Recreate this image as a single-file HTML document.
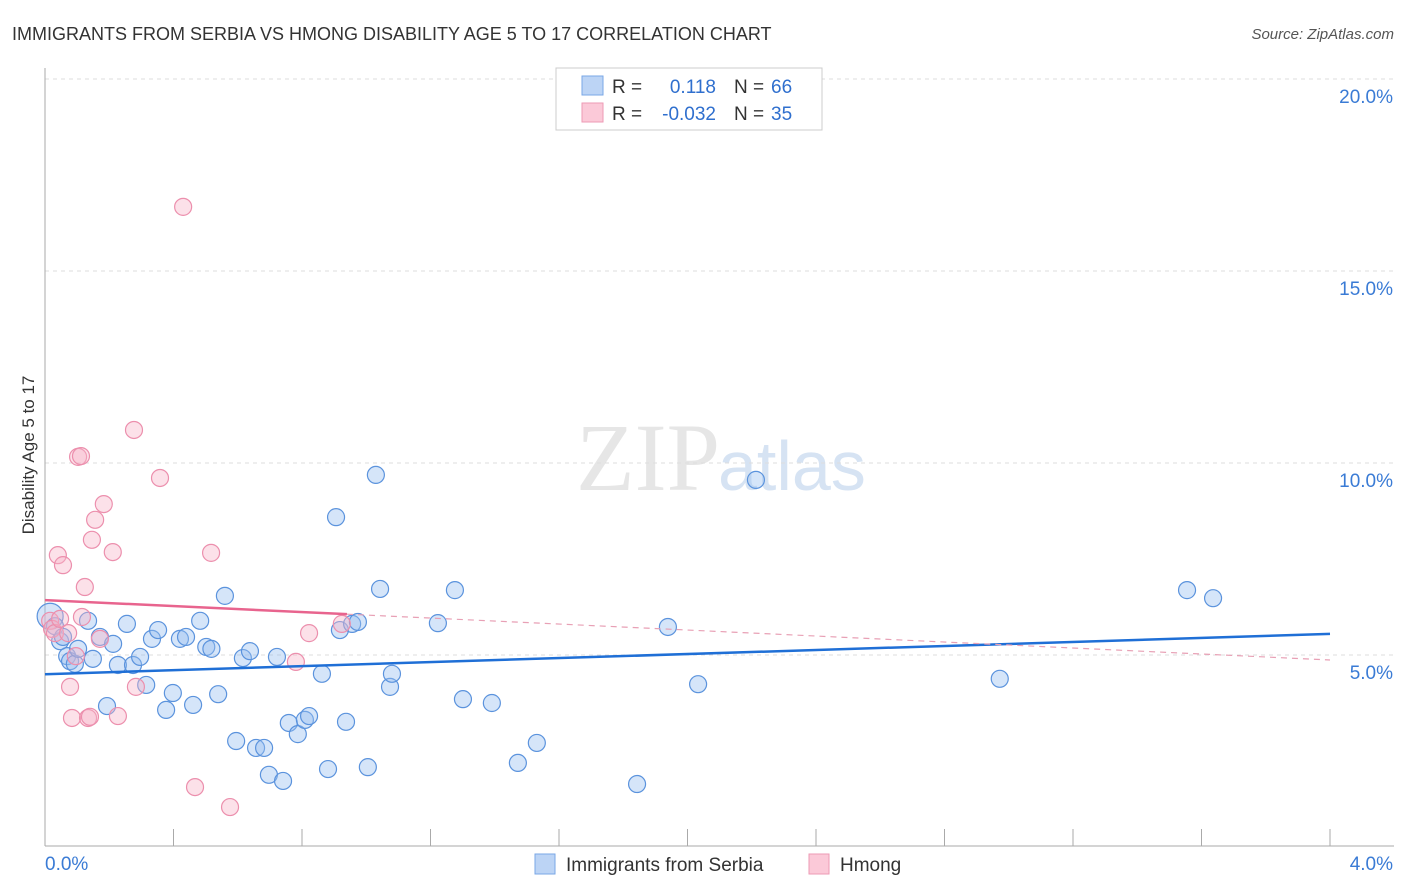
<!DOCTYPE html>
<html><head><meta charset="utf-8"><style>
body{margin:0;background:#fff;font-family:"Liberation Sans",sans-serif}
svg{display:block}
</style></head><body>
<svg id="chart" width="1406" height="892">
<text x="12" y="40" font-size="18" fill="#333">IMMIGRANTS FROM SERBIA VS HMONG DISABILITY AGE 5 TO 17 CORRELATION CHART</text>
<text x="1394" y="39" font-size="15" fill="#555" text-anchor="end" font-style="italic">Source: ZipAtlas.com</text>
<text x="34" y="455" font-size="17" fill="#333" text-anchor="middle" transform="rotate(-90 34 455)">Disability Age 5 to 17</text>
<text x="720" y="490" font-size="96" fill="#e6e6e6" text-anchor="end" font-family="Liberation Serif,serif">ZIP</text>
<text x="718" y="490" font-size="70" fill="#d6e3f3">atlas</text>
<g id="grid"></g><g id="pts"></g><g id="lines"></g>
<g>
<rect x="556" y="68" width="266" height="62" fill="#fff" stroke="#ccc"/>
<rect x="582" y="76" width="21" height="19" fill="#bcd4f5" stroke="#7aa7e6"/>
<rect x="582" y="103" width="21" height="19" fill="#fbc9d8" stroke="#ee9ab5"/>
<text x="612" y="93" font-size="19" fill="#333">R =</text><text x="716" y="93" font-size="19" fill="#2f6fce" text-anchor="end">0.118</text>
<text x="734" y="93" font-size="19" fill="#333">N =</text><text x="771" y="93" font-size="19" fill="#2f6fce">66</text>
<text x="612" y="120" font-size="19" fill="#333">R =</text><text x="716" y="120" font-size="19" fill="#2f6fce" text-anchor="end">-0.032</text>
<text x="734" y="120" font-size="19" fill="#333">N =</text><text x="771" y="120" font-size="19" fill="#2f6fce">35</text>
</g>
<g>
<rect x="535" y="854" width="20" height="20" fill="#bcd4f5" stroke="#7aa7e6"/>
<text x="566" y="871" font-size="19" fill="#333">Immigrants from Serbia</text>
<rect x="809" y="854" width="20" height="20" fill="#fbc9d8" stroke="#ee9ab5"/>
<text x="840" y="871" font-size="19" fill="#333">Hmong</text>
</g>
</svg>
<script>
const yTicks=[5,10,15,20];
const xTickLabels=["0.0%","4.0%"];
const blueX=[0.016,0.031,0.047,0.056,0.069,0.078,0.093,0.103,0.134,0.149,0.171,0.193,0.212,0.227,0.255,0.274,0.296,0.315,0.333,0.352,0.377,0.398,0.420,0.439,0.461,0.483,0.502,0.518,0.539,0.560,0.595,0.616,0.638,0.657,0.682,0.697,0.722,0.741,0.759,0.787,0.809,0.822,0.862,0.881,0.906,0.918,0.937,0.956,0.974,1.005,1.030,1.043,1.074,1.080,1.223,1.276,1.301,1.391,1.472,1.531,1.843,1.939,2.033,2.213,2.972,3.555,3.636];
const blueY=[6.01,5.75,5.36,5.47,4.97,4.84,4.77,5.16,5.89,4.90,5.47,3.67,5.29,4.74,5.81,4.74,4.95,4.22,5.42,5.65,3.57,4.01,5.42,5.47,3.70,5.89,5.21,5.16,3.98,6.54,2.76,4.92,5.10,2.58,2.58,1.88,4.95,1.72,3.23,2.94,3.31,3.41,4.51,2.03,8.59,5.65,3.26,5.81,5.86,2.08,9.69,6.72,4.17,4.51,5.83,6.69,3.85,3.75,2.19,2.71,1.64,5.73,4.24,9.56,4.38,6.69,6.48];
const pinkX=[0.016,0.022,0.031,0.040,0.047,0.056,0.072,0.078,0.084,0.096,0.103,0.112,0.115,0.124,0.134,0.140,0.146,0.156,0.171,0.183,0.211,0.227,0.277,0.283,0.358,0.430,0.467,0.517,0.576,0.781,0.822,0.924];
const pinkY=[5.89,5.68,5.57,7.60,5.94,7.34,5.57,4.17,3.36,4.97,10.16,10.18,5.99,6.77,3.36,3.39,8.00,8.52,5.42,8.93,7.68,3.41,10.86,4.17,9.61,16.67,1.56,7.66,1.04,4.82,5.57,5.81];
const blueTrend=[4.50,5.55];const pinkTrend=[6.43,4.87];
const X=v=>45+v/4*1285, Y=v=>847-v/5*192;
const NS="http://www.w3.org/2000/svg";
function mk(p,t,a){const e=document.createElementNS(NS,t);for(const k in a)e.setAttribute(k,a[k]);p.appendChild(e);return e;}
const g=document.getElementById('grid');
yTicks.forEach(t=>{const l=mk(g,'line',{x1:45,x2:1394,y1:Y(t),y2:Y(t),stroke:'#ddd','stroke-dasharray':'4 4'});


const tx=mk(g,'text',{x:1393,y:Y(t)+24,'font-size':19,fill:'#3a7bd5','text-anchor':'end'});tx.textContent=t.toFixed(1)+'%';

});
const ax=mk(g,'line',{x1:45,x2:45,y1:68,y2:846,stroke:'#aaa'});


const bx=mk(g,'line',{x1:45,x2:1394,y1:846,y2:846,stroke:'#aaa'});


for(let i=0;i<=10;i++){const x=45+i*128.5;const t=mk(g,'line',{x1:x,x2:x,y1:829,y2:846,stroke:'#aaa'});

}
xTickLabels.forEach((s,i)=>{const t=mk(g,'text',{x:i?1393:45,y:870,'font-size':19,fill:'#3a7bd5','text-anchor':i?'end':'start'});t.textContent=s;

});
const p=document.getElementById('pts');
blueX.forEach((v,i)=>{const c=mk(p,'circle',{cx:X(v),cy:Y(blueY[i]),r:i==0?13:8.5,fill:'rgba(150,190,240,0.4)',stroke:'#5b93dd','stroke-width':1.2});

});
pinkX.forEach((v,i)=>{const c=mk(p,'circle',{cx:X(v),cy:Y(pinkY[i]),r:8.5,fill:'rgba(248,180,200,0.4)',stroke:'#ec8fad','stroke-width':1.2});

});
const L=document.getElementById('lines');
const b=mk(L,'line',{x1:X(0),x2:X(4),y1:Y(blueTrend[0]),y2:Y(blueTrend[1]),stroke:'#1f6fd6','stroke-width':2.5});


const xe=0.94, pm=pinkTrend[0]+(pinkTrend[1]-pinkTrend[0])*xe/4;
const p1=mk(L,'line',{x1:X(0),x2:X(xe),y1:Y(pinkTrend[0]),y2:Y(pm),stroke:'#e8648e','stroke-width':2.5});


const p2=mk(L,'line',{x1:X(xe),x2:X(4),y1:Y(pm),y2:Y(pinkTrend[1]),stroke:'#e8a0b5','stroke-width':1.2,'stroke-dasharray':'6 5'});


</script>
</body></html>
